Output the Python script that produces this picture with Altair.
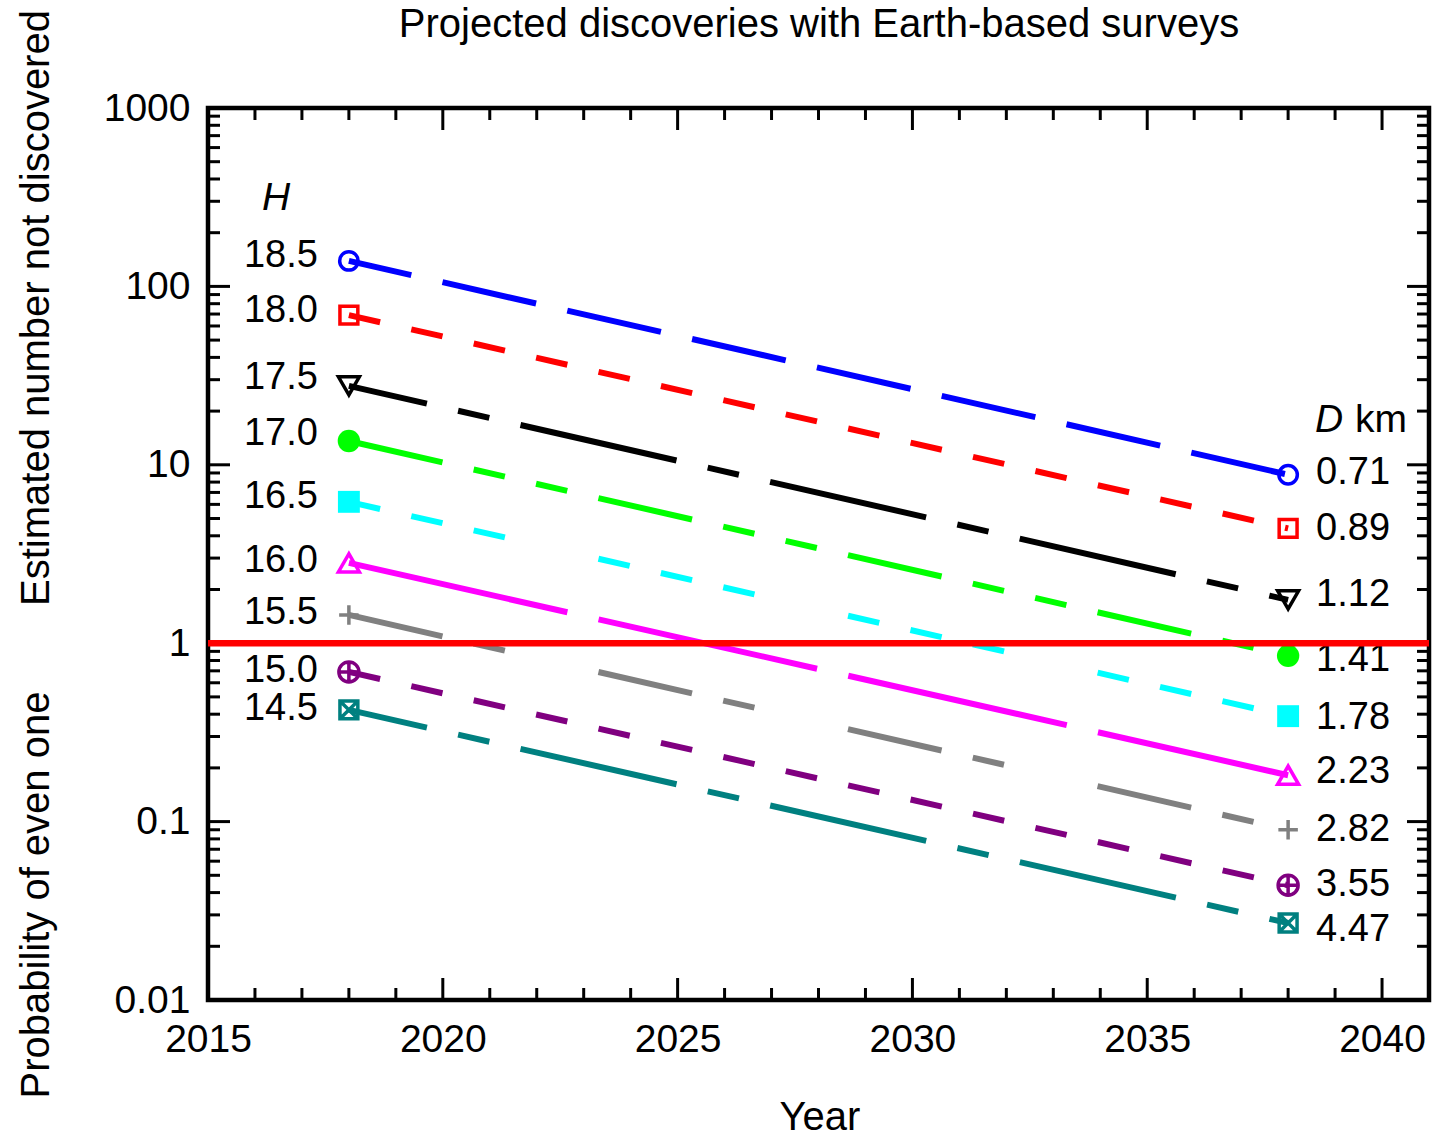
import altair as alt
import pandas as pd

# ---------------- data ----------------
years = [2018, 2038]
h_labels = ["18.5", "18.0", "17.5", "17.0", "16.5", "16.0", "15.5", "15.0", "14.5"]
d_labels = ["0.71", "0.89", "1.12", "1.41", "1.78", "2.23", "2.82", "3.55", "4.47"]
n_2018 = [139, 69, 27.7, 13.6, 6.2, 2.82, 1.44, 0.69, 0.423]
n_2038 = [8.8, 4.4, 1.75, 0.85, 0.39, 0.182, 0.090, 0.044, 0.027]

x_major = [2015, 2020, 2025, 2030, 2035, 2040]
x_minor = [y for y in range(2016, 2041) if y not in x_major]
y_major = [0.01, 0.1, 1, 10, 100, 1000]
y_minor = [m * d for d in [0.01, 0.1, 1, 10, 100] for m in range(2, 10)]
threshold = [1]

# ---------------- styles ----------------
colors = ["#0000ff", "#ff0000", "#000000", "#00ff00", "#00ffff",
          "#ff00ff", "#808080", "#800080", "#008080"]
dashes = [[96, 32], [32, 32], [160, 32, 32, 32], [96, 32, 32, 32, 32, 32],
          [32, 32, 32, 32, 32, 96], [224, 32], [96, 32, 32, 96], [32, 32],
          [160, 32, 32, 32]]
dash_offsets = [32, 0, 80, 0, 0, 0, 0, 0, 80]
shapes = ["circle", "square", "triangle-down", "circle", "square", "triangle-up",
          "M-1,0H1M0,-1V1",
          "M-1,0A1,1 0 1,1 1,0A1,1 0 1,1 -1,0ZM-1,0H1M0,-1V1",
          "M-1,-1H1V1H-1ZM-1,-1L1,1M1,-1L-1,1"]
filled = [False, False, False, True, True, False, False, False, False]
sizes = [340, 320, 440, 500, 480, 440, 380, 400, 320]
# small vertical nudges of the end labels (pixels)
h_dy = [-5, -4, -8, -7, -5, -2, -2, -1, -1]
d_dy = [-2, 1, -5, 4, 2, -3, 0, 0, 7]

FONT = "Liberation Sans"
W, H = 1221, 892

xs = alt.Scale(domain=[2015, 2041], nice=False, zero=False)
ys = alt.Scale(type="log", domain=[0.01, 1000], nice=False)

x_axis = alt.Axis(
    values=x_major, format="d", ticks=False, domain=False, grid=False,
    labelFontSize=39, labelFont=FONT, labelColor="black", labelPadding=20,
    labelFlush=False, labelOverlap=False, title=None)
y_axis = alt.Axis(
    values=y_major, format="~g", ticks=False, domain=False, grid=False,
    labelFontSize=39, labelFont=FONT, labelColor="black", labelPadding=18,
    labelFlush=False, labelOverlap=False, title=None)


def X(field="year"):
    return alt.X(f"{field}:Q", scale=xs, axis=x_axis, title=None)


def Y(field="value"):
    return alt.Y(f"{field}:Q", scale=ys, axis=y_axis, title=None)


layers = []


# tick marks (inward, all four sides)
def xticks(vals, length):
    df = pd.DataFrame({"year": vals})
    bottom = alt.Chart(df).mark_rule(color="black", strokeWidth=3).encode(
        x=X(), y=alt.value(H), y2=alt.value(H - length))
    top = alt.Chart(df).mark_rule(color="black", strokeWidth=3).encode(
        x=X(), y=alt.value(0), y2=alt.value(length))
    return [bottom, top]


def yticks(vals, length):
    df = pd.DataFrame({"value": vals})
    left = alt.Chart(df).mark_rule(color="black", strokeWidth=3).encode(
        y=Y(), x=alt.value(0), x2=alt.value(length))
    right = alt.Chart(df).mark_rule(color="black", strokeWidth=3).encode(
        y=Y(), x=alt.value(W), x2=alt.value(W - length))
    return [left, right]


layers += xticks(x_major, 22) + xticks(x_minor, 12)
layers += yticks(y_major, 22) + yticks(y_minor, 12)

# series lines, markers and labels
for i in range(len(h_labels)):
    df = pd.DataFrame({
        "year": years,
        "value": [n_2018[i], n_2038[i]],
    })
    layers.append(
        alt.Chart(df).mark_line(
            color=colors[i], strokeWidth=6, strokeDash=dashes[i],
            strokeDashOffset=dash_offsets[i], strokeCap="butt",
        ).encode(x=X(), y=Y())
    )
    layers.append(
        alt.Chart(df).mark_point(
            shape=shapes[i], filled=filled[i], size=sizes[i], opacity=1,
            color=colors[i], strokeWidth=3.5,
        ).encode(x=X(), y=Y())
    )
    hdf = pd.DataFrame({"year": [years[0]], "value": [n_2018[i]], "label": [h_labels[i]]})
    ddf = pd.DataFrame({"year": [years[1]], "value": [n_2038[i]], "label": [d_labels[i]]})
    layers.append(
        alt.Chart(hdf).mark_text(align="right", baseline="middle", dx=-31, dy=h_dy[i],
                                 fontSize=38, font=FONT, color="black").encode(
            x=X(), y=Y(), text="label:N")
    )
    layers.append(
        alt.Chart(ddf).mark_text(align="left", baseline="middle", dx=28, dy=d_dy[i],
                                 fontSize=38, font=FONT, color="black").encode(
            x=X(), y=Y(), text="label:N")
    )

# threshold line at 1
layers.append(
    alt.Chart(pd.DataFrame({"value": threshold})).mark_rule(
        color="#ff0000", strokeWidth=6.5).encode(y=Y())
)


# titles / annotations
def note(text, x, y, size=39, align="center", angle=0, style="normal"):
    return alt.Chart(pd.DataFrame({"t": [text]})).mark_text(
        align=align, baseline="alphabetic", fontSize=size, font=FONT,
        color="black", angle=angle, fontStyle=style,
    ).encode(x=alt.value(x), y=alt.value(y), text="t:N")


layers.append(note("Projected discoveries with Earth-based surveys", 611, -71, size=40))
layers.append(note("Year", 612, 1022, size=40))
layers.append(note("Estimated number not discovered", -159, 200, size=40, angle=270))
layers.append(note("Probability of even one", -159, 787, size=40, angle=270))
layers.append(note("H", 68, 102, style="italic"))
layers.append(note("D", 1107, 324, align="left", style="italic"))
layers.append(note("km", 1147, 324, align="left"))

chart = alt.layer(*layers).properties(
    width=W, height=H,
    autosize=alt.AutoSizeParams(type="none"),
    padding={"left": 208, "top": 108, "right": 3, "bottom": 137},
    background="white",
).configure_view(stroke="black", strokeWidth=4.5)

chart.save("out.html", embed_options={"renderer": "svg", "actions": False})
